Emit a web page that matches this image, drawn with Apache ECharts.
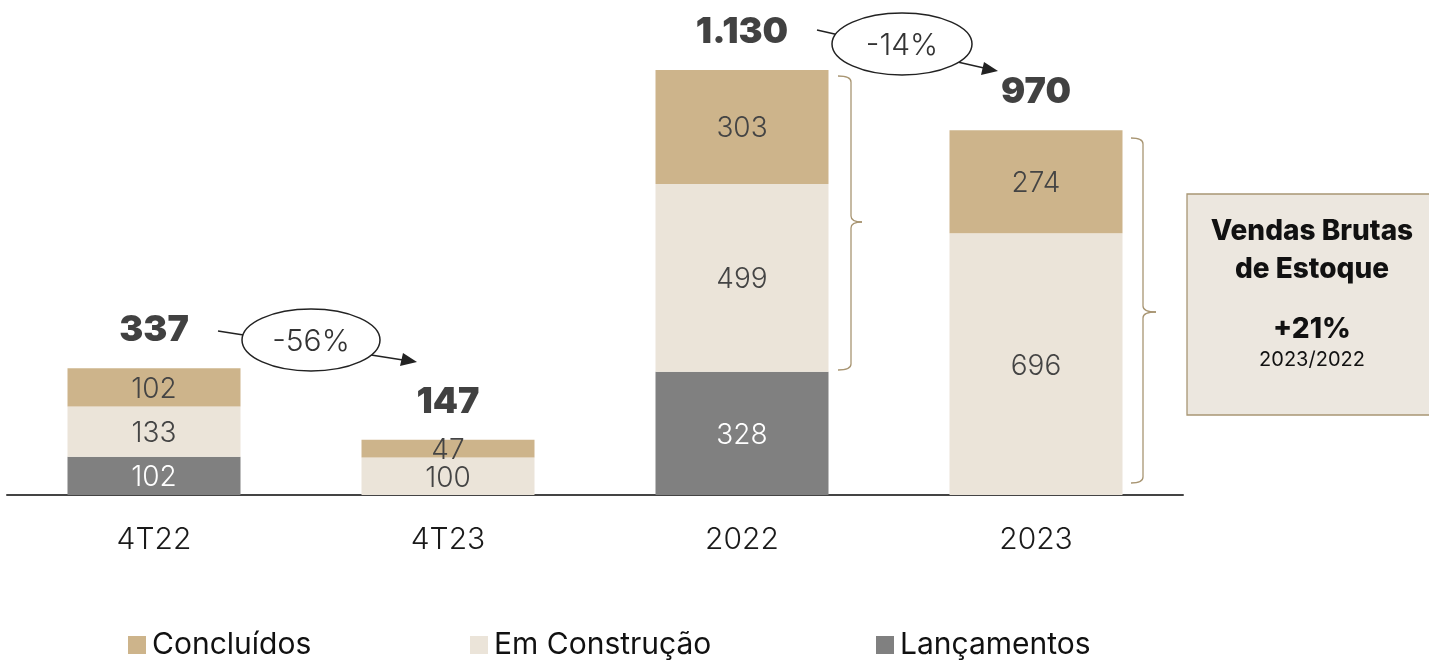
<!DOCTYPE html>
<html lang="pt-BR">
<head>
  <meta charset="UTF-8">
  <title>Vendas Brutas de Estoque</title>
  <script src="https://cdn.jsdelivr.net/npm/echarts@6/dist/echarts.min.js"></script>
  <style>
    html, body { margin: 0; padding: 0; background: #fff; }
    #chart { width: 1429px; height: 661px; }
  </style>
</head>
<body>
  <div id="chart"></div>
  <script>
    var categories = ['4T22', '4T23', '2022', '2023']
    var lancamentos = [102, 0, 328, 0]
    var emConstrucao = [133, 100, 499, 696]
    var concluidos = [102, 47, 303, 274]
    var totals = categories.map(function (c, i) {
      return lancamentos[i] + emConstrucao[i] + concluidos[i]
    })

    var font = 'Inter, "Open Sans", sans-serif'

    function fmt(v) {
      // separador de milhar com ponto
      return String(v).replace(/\B(?=(\d{3})+(?!\d))/g, '.')
    }

    function barLabel(color) {
      return {
        show: true,
        position: 'inside',
        offset: [0, 2],
        color: color,
        fontSize: 28,
        fontWeight: 300,
        fontFamily: font,
        formatter: function (p) { return p.value ? p.value : '' }
      }
    }

    // chave "}" feita de curvas e linhas
    function brace(x0, x1, tip, top, mid, bottom) {
      var st = { stroke: '#a89572', lineWidth: 1.3, fill: null }
      var r = 6
      return [
        { type: 'bezierCurve', shape: { x1: x0, y1: top, x2: x1, y2: top + r, cpx1: x1, cpy1: top }, style: st },
        { type: 'line', shape: { x1: x1, y1: top + r, x2: x1, y2: mid - r }, style: st },
        { type: 'bezierCurve', shape: { x1: x1, y1: mid - r, x2: tip, y2: mid, cpx1: x1, cpy1: mid }, style: st },
        { type: 'bezierCurve', shape: { x1: tip, y1: mid, x2: x1, y2: mid + r, cpx1: x1, cpy1: mid }, style: st },
        { type: 'line', shape: { x1: x1, y1: mid + r, x2: x1, y2: bottom - r }, style: st },
        { type: 'bezierCurve', shape: { x1: x1, y1: bottom - r, x2: x0, y2: bottom, cpx1: x1, cpy1: bottom }, style: st }
      ]
    }

    var mCharts = echarts.init(document.getElementById('chart'))

    function legendAt(name, left) {
      return {
        data: [name],
        left: left,
        top: 630,
        padding: 0,
        itemWidth: 18,
        itemHeight: 18,
        itemGap: 0,
        icon: 'rect',
        selectedMode: false,
        textStyle: { fontSize: 30, color: '#111', fontFamily: font, padding: [0, 0, 0, 1] }
      }
    }

    var graphics = [
      // -56%
      { type: 'line', shape: { x1: 218, y1: 331, x2: 403, y2: 360 }, style: { stroke: '#222', lineWidth: 1.5 } },
      { type: 'polygon', shape: { points: [[417, 362], [400, 366], [403, 353]] }, style: { fill: '#222' } },
      { type: 'ellipse', shape: { cx: 311, cy: 340, rx: 69, ry: 31 }, style: { fill: '#fff', stroke: '#222', lineWidth: 1.5 } },
      { type: 'text', x: 311, y: 342, style: { text: '-56%', fontSize: 30, fontWeight: 300, fill: '#333', fontFamily: font, align: 'center', verticalAlign: 'middle' } },
      // -14%
      { type: 'line', shape: { x1: 817, y1: 30, x2: 984, y2: 68 }, style: { stroke: '#222', lineWidth: 1.5 } },
      { type: 'polygon', shape: { points: [[998, 71], [981, 75], [984, 62]] }, style: { fill: '#222' } },
      { type: 'ellipse', shape: { cx: 902, cy: 44, rx: 70, ry: 31 }, style: { fill: '#fff', stroke: '#222', lineWidth: 1.5 } },
      { type: 'text', x: 902, y: 46, style: { text: '-14%', fontSize: 30, fontWeight: 300, fill: '#333', fontFamily: font, align: 'center', verticalAlign: 'middle' } },
      // caixa
      { type: 'rect', shape: { x: 1187, y: 194, width: 260, height: 221 }, style: { fill: '#ece7df', stroke: '#a89674', lineWidth: 1.3 } },
      { type: 'text', x: 1312, y: 232, style: { text: 'Vendas Brutas', fontSize: 28, fontWeight: 800, fill: '#111', fontFamily: font, align: 'center', verticalAlign: 'middle' } },
      { type: 'text', x: 1312, y: 270, style: { text: 'de Estoque', fontSize: 28, fontWeight: 800, fill: '#111', fontFamily: font, align: 'center', verticalAlign: 'middle' } },
      { type: 'text', x: 1312, y: 330, style: { text: '+21%', fontSize: 28, fontWeight: 800, fill: '#111', fontFamily: font, align: 'center', verticalAlign: 'middle' } },
      { type: 'text', x: 1312, y: 360, style: { text: '2023/2022', fontSize: 20, fill: '#111', fontFamily: font, align: 'center', verticalAlign: 'middle' } }
    ]
    graphics = graphics.concat(brace(838, 851, 862, 76, 222, 370))
    graphics = graphics.concat(brace(1131, 1143, 1156, 138, 312, 483))

    var option = {
      animation: false,
      grid: { left: 7, right: 246, top: 70, bottom: 166 },
      legend: [
        legendAt('Concluídos', 128),
        legendAt('Em Construção', 470),
        legendAt('Lançamentos', 876)
      ],
      xAxis: {
        type: 'category',
        data: categories,
        axisLine: { lineStyle: { color: '#444', width: 2 } },
        axisTick: { show: false },
        axisLabel: { fontSize: 30, fontWeight: 300, color: '#1a1a1a', fontFamily: font, margin: 30 }
      },
      yAxis: {
        type: 'value',
        min: 0,
        max: 1130,
        show: false,
        splitLine: { show: false }
      },
      series: [
        {
          name: 'Lançamentos',
          type: 'bar',
          stack: 'total',
          barWidth: 173,
          data: lancamentos,
          itemStyle: { color: '#808080' },
          label: barLabel('#fff')
        },
        {
          name: 'Em Construção',
          type: 'bar',
          stack: 'total',
          barWidth: 173,
          data: emConstrucao,
          itemStyle: { color: '#ebe4d9' },
          label: barLabel('#444')
        },
        {
          name: 'Concluídos',
          type: 'bar',
          stack: 'total',
          barWidth: 173,
          data: concluidos,
          itemStyle: { color: '#cdb48b' },
          label: barLabel('#444')
        },
        {
          name: 'Total',
          type: 'scatter',
          data: totals,
          symbolSize: 0,
          silent: true,
          label: {
            show: true,
            position: 'top',
            distance: 20,
            color: '#111',
            fontSize: 36,
            fontWeight: 900,
            fontFamily: font,
            formatter: function (p) { return fmt(p.value) }
          }
        }
      ],
      graphic: graphics
    }
    mCharts.setOption(option)
  </script>
</body>
</html>
